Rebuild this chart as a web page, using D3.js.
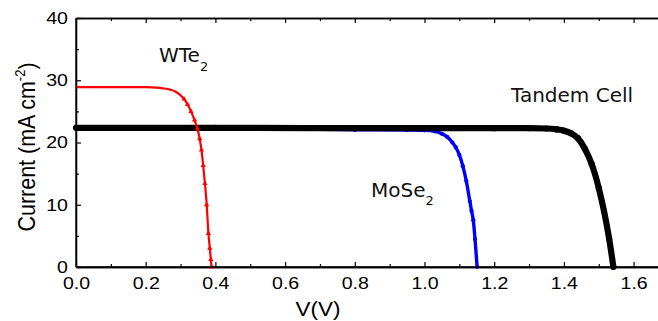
<!DOCTYPE html>
<html lang="en">
<head>
<meta charset="utf-8">
<title>J-V curves</title>
<script src="https://cdnjs.cloudflare.com/ajax/libs/d3/7.8.5/d3.min.js"></script>
<style>
  html, body { margin: 0; padding: 0; background: #fff; }
  svg { display: block; }
</style>
</head>
<body>
<div id="chart"></div>
<script>
// data (V in volts, J in mA cm-2)
const wteV = [0, 0.05, 0.1, 0.15, 0.2, 0.23, 0.25, 0.27, 0.285, 0.30, 0.31, 0.32, 0.33, 0.34, 0.348, 0.355, 0.36, 0.365, 0.37, 0.375, 0.38, 0.384, 0.387, 0.389];
const wteJ = [28.9, 28.9, 28.9, 28.9, 28.88, 28.82, 28.7, 28.5, 28.2, 27.6, 27.0, 26.1, 25.0, 23.6, 22.3, 20.6, 18.8, 16.3, 13.4, 10.0, 5.4, 3.0, 1.2, 0];

const moseV = [0, 0.3, 0.6, 0.8, 0.95, 1.0, 1.03, 1.05, 1.065, 1.08, 1.09, 1.1, 1.11, 1.12, 1.13, 1.135, 1.14, 1.145, 1.151];
const moseJ = [22.3, 22.25, 22.2, 22.05, 22.0, 21.95, 21.8, 21.4, 20.9, 20.0, 19.2, 18.0, 16.2, 13.8, 10.6, 9.0, 7.5, 4.5, 0];

const tandemV = [0, 0.4, 0.8, 1.2, 1.3, 1.35, 1.38, 1.40, 1.42, 1.44, 1.46, 1.48, 1.50, 1.515, 1.53, 1.542];
const tandemJ = [22.35, 22.35, 22.3, 22.3, 22.3, 22.25, 22.1, 21.9, 21.5, 20.7, 19.0, 16.5, 12.7, 9.0, 4.5, 0];

const xTicks = [0, 0.2, 0.4, 0.6, 0.8, 1.0, 1.2, 1.4, 1.6];
const xMinor = [0.1, 0.3, 0.5, 0.7, 0.9, 1.1, 1.3, 1.5, 1.7];
const yTicks = [0, 10, 20, 30, 40];
const yMinor = [5, 15, 25, 35];

//Width and height
const W = 658, H = 321;
const plotLeft = 76, plotTop = 18, plotBottom = 267;

const x = d3.scaleLinear().domain([0, 1.7]).range([plotLeft, plotLeft + 1.7 * 348.5]);
const y = d3.scaleLinear().domain([0, 40]).range([plotBottom, plotTop]);

const svg = d3.select("#chart").append("svg")
  .attr("width", W)
  .attr("height", H);

svg.append("rect").attr("width", W).attr("height", H).attr("fill", "#fff");

const tickFont = "17px 'Liberation Sans', Arial, sans-serif";

////Axes - ticks point inward
function styleAxis(g) {
  g.selectAll("path.domain").attr("stroke", "#000").attr("stroke-width", 1.3);
  g.selectAll(".tick line").attr("stroke", "#000").attr("stroke-width", 1.2);
}

// bottom
svg.append("g")
  .attr("transform", "translate(0," + plotBottom + ")")
  .call(d3.axisBottom(x).tickValues(xMinor).tickSize(-3).tickSizeOuter(0).tickFormat(""))
  .call(styleAxis);
const xAxis = svg.append("g")
  .attr("transform", "translate(0," + plotBottom + ")")
  .call(d3.axisBottom(x).tickValues(xTicks).tickSize(-5).tickSizeOuter(0).tickPadding(10)
    .tickFormat(d3.format(".1f")))
  .call(styleAxis);
xAxis.selectAll("text")
  .style("font", tickFont).attr("fill", "#000")
  .attr("transform", "scale(1.15,1)");

// top
svg.append("g")
  .attr("transform", "translate(0," + plotTop + ")")
  .call(d3.axisTop(x).tickValues(xMinor).tickSize(-3).tickSizeOuter(0).tickFormat(""))
  .call(styleAxis);
svg.append("g")
  .attr("transform", "translate(0," + plotTop + ")")
  .call(d3.axisTop(x).tickValues(xTicks).tickSize(-5).tickSizeOuter(0).tickFormat(""))
  .call(styleAxis);

// left
svg.append("g")
  .attr("transform", "translate(" + plotLeft + ",0)")
  .call(d3.axisLeft(y).tickValues(yMinor).tickSize(-3).tickSizeOuter(0).tickFormat(""))
  .call(styleAxis);
const yAxis = svg.append("g")
  .attr("transform", "translate(" + plotLeft + ",0)")
  .call(d3.axisLeft(y).tickValues(yTicks).tickSize(-5).tickSizeOuter(0).tickPadding(7))
  .call(styleAxis);
yAxis.selectAll("text")
  .style("font", tickFont).attr("fill", "#000")
  .attr("transform", "scale(1.15,1)");

////Curves
function pts(vs, js) { return vs.map(function(v, i) { return [v, js[i]]; }); }

const line = d3.line()
  .x(function(d) { return x(d[0]); })
  .y(function(d) { return y(d[1]); })
  .curve(d3.curveMonotoneX);

// markers only on the steep part, where the original symbols show apart
const series = [
  {data: pts(moseV, moseJ), color: "#0000ff", width: 3.4, symbol: d3.symbolCircle, size: 14},
  {data: pts(tandemV, tandemJ), color: "#000000", width: 6.2, symbol: d3.symbolCircle, size: 30},
  {data: pts(wteV, wteJ), color: "#ff0000", width: 2.2, symbol: d3.symbolTriangle, size: 12}
];

series.forEach(function(s) {
  svg.append("path")
    .datum(s.data)
    .attr("fill", "none")
    .attr("stroke", s.color)
    .attr("stroke-width", s.width)
    .attr("d", line);

  svg.append("g").selectAll("path")
    .data(s.data.filter(function(d) { return d[1] < 27.5; }))
    .enter().append("path")
    .attr("transform", function(d) { return "translate(" + x(d[0]) + "," + y(d[1]) + ")"; })
    .attr("d", d3.symbol().type(s.symbol).size(s.size))
    .attr("fill", s.color);
});

// re-draw frame lines over the curves
svg.append("line").attr("x1", plotLeft).attr("x2", W).attr("y1", plotBottom).attr("y2", plotBottom)
  .attr("stroke", "#000").attr("stroke-width", 1.3);
svg.append("line").attr("x1", plotLeft).attr("x2", plotLeft).attr("y1", plotTop).attr("y2", plotBottom)
  .attr("stroke", "#000").attr("stroke-width", 1.3);

////Labels
const labFont = "20px 'DejaVu Sans', Verdana, sans-serif";

const wte = svg.append("text").attr("x", 159).attr("y", 61.5).style("font", labFont).attr("fill", "#111").text("WTe");
wte.append("tspan").attr("dy", 9).style("font-size", "13px").text("2");

const mose = svg.append("text").attr("x", 371).attr("y", 196.5).style("font", labFont).attr("fill", "#111").text("MoSe");
mose.append("tspan").attr("dy", 8).style("font-size", "13px").text("2");

svg.append("text").attr("x", 511).attr("y", 101.5).style("font", labFont).attr("fill", "#111").text("Tandem Cell");

// axis titles
const yTitle = svg.append("text")
  .attr("transform", "translate(35,147) rotate(-90) scale(1,1.08)")
  .attr("text-anchor", "middle")
  .style("font", "21.5px 'Liberation Sans', Arial, sans-serif")
  .attr("fill", "#000")
  .text("Current (mA cm");
yTitle.append("tspan").attr("dy", -9).style("font-size", "13px").text("-2");
yTitle.append("tspan").attr("dy", 9).text(")");

svg.append("text")
  .attr("transform", "translate(318,315.5) scale(1.07,1)")
  .attr("text-anchor", "middle")
  .style("font", "21px 'Liberation Sans', Arial, sans-serif")
  .attr("fill", "#000")
  .text("V(V)");
</script>
</body>
</html>
